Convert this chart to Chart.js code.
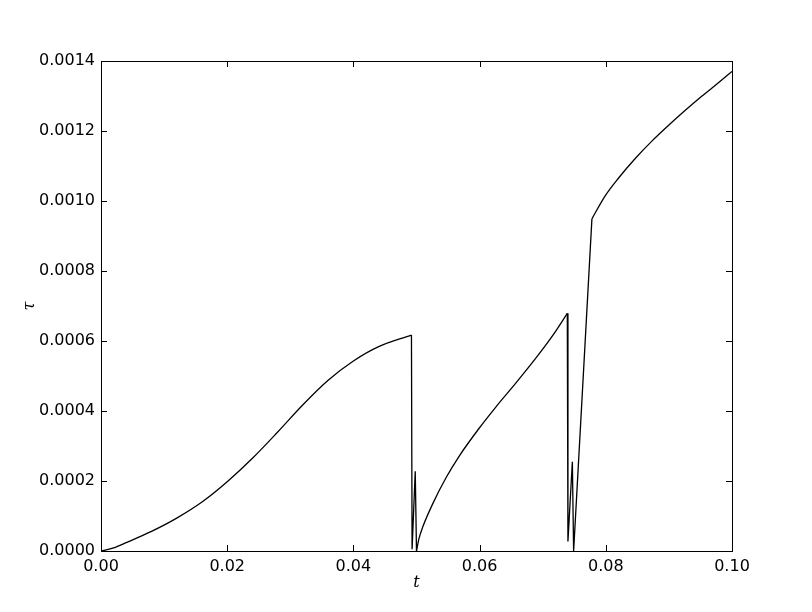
<!DOCTYPE html>
<html>
<head>
<meta charset="utf-8">
<script src="https://cdn.jsdelivr.net/npm/chart.js@4/dist/chart.umd.min.js"></script>
<style>
  html, body { margin: 0; padding: 0; background: #fff; }
  #wrap { width: 812px; height: 612px; }
</style>
</head>
<body>
<div id="wrap"><canvas id="plot" width="812" height="612"></canvas></div>
<script>
// values, one pair of arrays per piece of the curve
// smooth rise 1
var rise1T   = [0, 0.002, 0.004, 0.008, 0.012, 0.016, 0.020, 0.024, 0.028, 0.032, 0.036, 0.040, 0.044, 0.0492];
var rise1Tau = [0, 0.000009, 0.000024, 0.000056, 0.000094, 0.000140, 0.000198, 0.000265, 0.000340, 0.000418, 0.000488, 0.000543, 0.000584, 0.000617];
// drop and spike near t = 0.05
var jump1T   = [0.0492, 0.0493, 0.0498, 0.0500];
var jump1Tau = [0.000617, 0.000005, 0.000228, 0];
// smooth rise 2
var rise2T   = [0.0500, 0.0504, 0.0510, 0.0526, 0.0547, 0.0568, 0.0599, 0.0626, 0.0658, 0.0690, 0.0716, 0.0739];
var rise2Tau = [0, 0.000036, 0.000069, 0.000136, 0.000210, 0.000272, 0.000350, 0.000412, 0.000481, 0.000553, 0.000616, 0.000679];
// drop, spike and steep climb near t = 0.075
var jump2T   = [0.0739, 0.0740, 0.0747, 0.0749, 0.0778];
var jump2Tau = [0.000679, 0.000027, 0.000255, 0, 0.000949];
// smooth rise 3
var rise3T   = [0.0778, 0.0798, 0.0820, 0.0847, 0.0873, 0.0900, 0.0926, 0.0952, 0.0978, 0.1000];
var rise3Tau = [0.000949, 0.001012, 0.001065, 0.001122, 0.001171, 0.001217, 0.001259, 0.001299, 0.001337, 0.001370];

var xTicks = [0, 0.02, 0.04, 0.06, 0.08, 0.10];
var yTicks = [0, 0.0002, 0.0004, 0.0006, 0.0008, 0.0010, 0.0012, 0.0014];

function pts(ts, vs) { return ts.map(function (t, i) { return { x: t, y: vs[i] }; }); }
function piece(ts, vs, smooth) {
  return {
    data: pts(ts, vs),
    showLine: true,
    borderColor: '#000',
    borderWidth: 1.3,
    pointRadius: 0,
    cubicInterpolationMode: smooth ? 'monotone' : 'default',
    tension: 0
  };
}

// frame and inward ticks on all four sides
var frameTicks = {
  id: 'frameTicks',
  afterDraw: function (chart) {
    var c = chart.ctx, a = chart.chartArea;
    var xs = chart.scales.x, ys = chart.scales.y;
    c.save();
    c.strokeStyle = '#000';
    c.lineWidth = 1;
    c.strokeRect(Math.round(a.left) + 0.5, Math.round(a.top) + 0.5,
      Math.round(a.right - a.left), Math.round(a.bottom - a.top));
    c.beginPath();
    xTicks.forEach(function (v) {
      var px = Math.round(xs.getPixelForValue(v)) + 0.5;
      c.moveTo(px, a.bottom); c.lineTo(px, a.bottom - 6);
      c.moveTo(px, a.top); c.lineTo(px, a.top + 6);
    });
    yTicks.forEach(function (v) {
      var py = Math.round(ys.getPixelForValue(v)) + 0.5;
      c.moveTo(a.left, py); c.lineTo(a.left + 6, py);
      c.moveTo(a.right, py); c.lineTo(a.right - 6, py);
    });
    c.stroke();
    c.restore();
  }
};

new Chart(document.getElementById('plot'), {
  type: 'scatter',
  data: {
    datasets: [
      piece(rise1T, rise1Tau, true),
      piece(jump1T, jump1Tau, false),
      piece(rise2T, rise2Tau, true),
      piece(jump2T, jump2Tau, false),
      piece(rise3T, rise3Tau, true)
    ]
  },
  options: {
    responsive: false,
    animation: false,
    layout: { padding: { left: 20, right: 80, top: 61, bottom: 20 } },
    plugins: { legend: { display: false }, tooltip: { enabled: false } },
    scales: {
      x: {
        type: 'linear',
        min: 0, max: 0.1,
        afterBuildTicks: function (s) { s.ticks = xTicks.map(function (v) { return { value: v }; }); },
        afterFit: function (s) { s.height = 41; },
        grid: { display: false, drawTicks: false },
        border: { display: false },
        ticks: {
          color: '#000', padding: 6, maxRotation: 0,
          font: { family: 'DejaVu Sans', size: 16 },
          callback: function (v) { return v.toFixed(2); }
        },
        title: {
          display: true, text: 't', color: '#000', padding: { top: 0, bottom: 0 },
          font: { family: 'DejaVu Serif', size: 16, style: 'italic' }
        }
      },
      y: {
        type: 'linear',
        min: 0, max: 0.0014,
        afterBuildTicks: function (s) { s.ticks = yTicks.map(function (v) { return { value: v }; }); },
        afterFit: function (s) { s.width = 81; },
        grid: { display: false, drawTicks: false },
        border: { display: false },
        ticks: {
          color: '#000', padding: 6,
          font: { family: 'DejaVu Sans', size: 16 },
          callback: function (v) { return v.toFixed(4); }
        },
        title: {
          display: true, text: 'τ', color: '#000', padding: { top: 0, bottom: 0 },
          font: { family: 'DejaVu Serif', size: 16, style: 'italic' }
        }
      }
    }
  },
  plugins: [frameTicks]
});
</script>
</body>
</html>
